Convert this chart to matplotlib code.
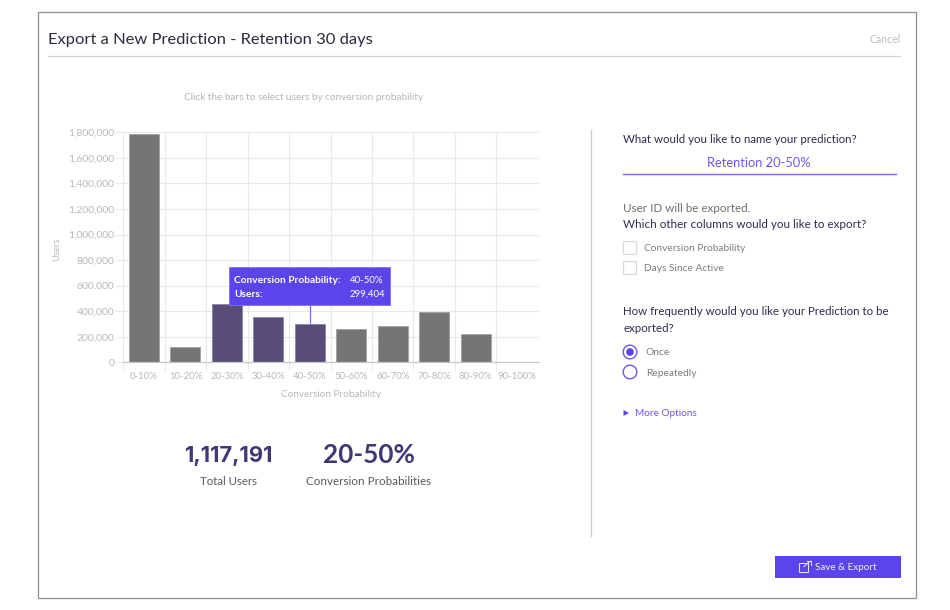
import matplotlib
matplotlib.use('Agg')
import matplotlib.pyplot as plt
from matplotlib.patches import Rectangle, Circle, Polygon
from matplotlib.ticker import FuncFormatter

plt.rcParams['font.family'] = ['Lato', 'DejaVu Sans']

categories = ['0-10%', '10-20%', '20-30%', '30-40%', '40-50%', '50-60%', '60-70%', '70-80%', '80-90%', '90-100%']
users = [1790000, 122000, 460000, 357787, 299404, 258000, 287000, 394000, 222000, 0]
selected = ['20-30%', '30-40%', '40-50%']
y_ticks = [0, 200000, 400000, 600000, 800000, 1000000, 1200000, 1400000, 1600000, 1800000]

W, H = 950, 610
GREY_BAR = '#757575'
PURPLE_BAR = '#574d78'
VIOLET = '#5a45ea'
DARK = '#2f2b4a'
LIGHT = '#b9b9b9'
MID = '#7d7d7d'
STAT = '#433675'
GRID = '#e9e9e9'

fig = plt.figure(figsize=(W / 100, H / 100), dpi=100, facecolor='white')

# chart area, in pixels of the screenshot
left, right, top, bottom = 123.2, 538.7, 132.3, 362.3
ax = fig.add_axes([left / W, 1 - bottom / H, (right - left) / W, (bottom - top) / H])
colors = [PURPLE_BAR if c in selected else GREY_BAR for c in categories]
edges = ['#8b84a5' if c in selected else '#a0a0a0' for c in categories]
ax.bar(range(len(categories)), users, width=0.72, color=colors, edgecolor=edges, linewidth=0.6, zorder=3)
ax.set_xlim(-0.5, 9.52)
ax.set_ylim(0, 1800000)
ax.set_yticks(y_ticks)
ax.yaxis.set_major_formatter(FuncFormatter(lambda v, p: f'{int(v):,}'))
ax.set_xticks(range(len(categories)))
ax.set_xticklabels(categories)
ax.set_xticks([i - 0.5 for i in range(len(categories))], minor=True)
ax.tick_params(axis='x', which='major', length=0, pad=7.2, labelsize=6.9, labelcolor=LIGHT)
ax.tick_params(axis='x', which='minor', length=6.5, width=0.8, color=GRID)
ax.tick_params(axis='y', length=6, width=0.8, color=GRID, pad=0.4, labelsize=7.5, labelcolor=LIGHT)
ax.grid(True, axis='y', color=GRID, linewidth=0.8, zorder=0)
ax.grid(True, axis='x', which='minor', color=GRID, linewidth=0.8, zorder=0)
ax.grid(False, axis='x', which='major')
ax.set_axisbelow(True)
for s in ['top', 'right', 'left']:
    ax.spines[s].set_visible(False)
ax.spines['bottom'].set_color('#c8c8c8')
ax.spines['bottom'].set_linewidth(0.9)
ax.spines['bottom'].set_zorder(4)

# overlay in pixel coordinates for the dialog around the chart
ui = fig.add_axes([0, 0, 1, 1], facecolor='none')
ui.set_xlim(0, W)
ui.set_ylim(H, 0)
ui.axis('off')


def label(x, y, s, size=7.3, color=MID, ha='left', weight='normal', **kw):
    ui.text(x, y + 0.8, s, fontsize=size, color=color, ha=ha, va='center', fontweight=weight, **kw)


ui.add_patch(Rectangle((37.7, 12.2), 878, 585.5, fill=False, edgecolor='#8f8f8f', linewidth=0.9))
ui.plot([48, 900], [55.7, 55.7], color='#d5d5d5', linewidth=0.9)
ui.plot([590.7, 590.7], [130, 536], color='#c9c9c9', linewidth=0.9)
label(48, 39, 'Export a New Prediction - Retention 30 days', size=11.85, color='#2b2b3d')
label(901, 38.5, 'Cancel', size=7.6, color='#bdbdbd', ha='right')
label(303.5, 96.5, 'Click the bars to select users by conversion probability', size=7.2, color='#b5b5b5', ha='center')
label(57, 248, 'Users', size=6.8, color=LIGHT, ha='center', rotation=90)
label(331, 393.5, 'Conversion Probability', size=7.2, color=LIGHT, ha='center')

# tooltip
ui.plot([310.2, 310.2], [305, 324], color='#7c6bf0', linewidth=0.9)
ui.add_patch(Rectangle((229.2, 267.3), 161, 37.5, facecolor=VIOLET, edgecolor='#7f70ee', linewidth=0.6))
label(234, 280, 'Conversion Probability:', size=7.3, color='white', weight='bold')
label(234, 293.5, 'Users:', size=7.3, color='white', weight='bold')
label(350, 280, categories[4], size=6.9, color='white')
label(350, 293.5, f'{users[4]:,}', size=6.9, color='white')

# totals under the chart
total = sum(u for u, c in zip(users, categories) if c in selected)
ui.text(228, 456, f'{total:,}', fontsize=15.8, color=STAT, ha='center', va='center', fontweight='bold', family=['Inter', 'Lato'])
label(228, 480.5, 'Total Users', size=8.2, color='#5a5a5a', ha='center')
label(368.5, 454.5, '20-50%', size=18.8, color=STAT, ha='center', weight='bold')
label(369, 480.5, 'Conversion Probabilities', size=8.35, color='#5a5a5a', ha='center')

# form on the right
label(623, 138.5, 'What would you like to name your prediction?', size=8.3, color=DARK)
label(759, 162.5, 'Retention 20-50%', size=9.3, color='#6b59ee', ha='center')
ui.plot([623, 895.5], [173.7, 173.7], color='#7c6bf0', linewidth=1)
label(623, 207.5, 'User ID will be exported.', size=8.4, color='#6f6f6f')
label(623, 224, 'Which other columns would you like to export?', size=8.35, color=DARK)
for y, s in [(248, 'Conversion Probability'), (267.5, 'Days Since Active')]:
    ui.add_patch(Rectangle((623.2, y - 6.7), 13, 13, facecolor='white', edgecolor='#d9d9d9', linewidth=0.9))
    label(644, y, s, size=7.3)
label(623, 311, 'How frequently would you like your Prediction to be', size=8.28, color=DARK)
label(623, 327.5, 'exported?', size=8.28, color=DARK)
ui.add_patch(Circle((630, 352), 6.8, facecolor='white', edgecolor='#6b59ee', linewidth=1))
ui.add_patch(Circle((630, 352), 3.8, facecolor=VIOLET, edgecolor='none'))
label(646, 352, 'Once', size=7.4)
ui.add_patch(Circle((630, 372), 6.8, facecolor='white', edgecolor='#6b59ee', linewidth=1))
label(646, 372.5, 'Repeatedly', size=7.4)
ui.add_patch(Polygon([(623.5, 410), (623.5, 416), (629, 413)], facecolor=VIOLET, edgecolor='none'))
label(635, 412.5, 'More Options', size=7.2, color='#6b59ee')

# save button
ui.add_patch(Rectangle((774.8, 556), 126.5, 22, facecolor=VIOLET, edgecolor='none'))
ui.add_patch(Rectangle((799, 563), 9, 9, fill=False, edgecolor='#e8e5fd', linewidth=0.7))
ui.plot([804, 810.5], [566.5, 561], color='#e8e5fd', linewidth=0.7)
ui.plot([807, 810.5, 810.5], [561, 561, 564.5], color='#e8e5fd', linewidth=0.7)
label(815, 567, 'Save & Export', size=7.1, color='#f1effe')

fig.savefig('out.png', dpi=100)
